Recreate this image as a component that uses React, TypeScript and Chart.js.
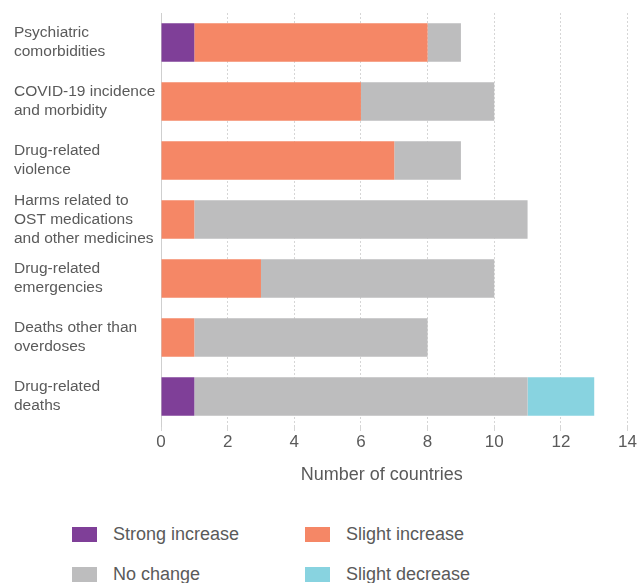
import React, { useEffect, useRef } from "react";
import { Chart, registerables } from "chart.js";

Chart.register(...registerables);

const categories: string[][] = [
  ["Psychiatric", "comorbidities"],
  ["COVID-19 incidence", "and morbidity"],
  ["Drug-related", "violence"],
  ["Harms related to", "OST medications", "and other medicines"],
  ["Drug-related", "emergencies"],
  ["Deaths other than", "overdoses"],
  ["Drug-related", "deaths"],
];

const seriesNames = ["Strong increase", "Slight increase", "No change", "Slight decrease"];
const strongIncrease = [1, 0, 0, 0, 0, 0, 1];
const slightIncrease = [7, 6, 7, 1, 3, 1, 0];
const noChange = [1, 4, 2, 10, 7, 7, 10];
const slightDecrease = [0, 0, 0, 0, 0, 0, 2];
const seriesColors = ["#7f3f98", "#f58766", "#bdbdbe", "#88d3e0"];
const xTicks = [0, 2, 4, 6, 8, 10, 12, 14];

const FONT = "'Liberation Sans', Arial, sans-serif";
const TEXT = "#5a5a5a";

export default function App() {
  const ref = useRef<HTMLCanvasElement | null>(null);

  useEffect(() => {
    document.body.style.margin = "0";
    if (!ref.current) return;
    const values = [strongIncrease, slightIncrease, noChange, slightDecrease];
    const chart = new Chart(ref.current, {
      type: "bar",
      data: {
        labels: categories,
        datasets: seriesNames.map((name, i) => ({
          label: name,
          data: values[i],
          backgroundColor: seriesColors[i],
          borderWidth: 0,
          barPercentage: 0.655,
          categoryPercentage: 1,
        })),
      },
      options: {
        indexAxis: "y",
        animation: false,
        responsive: false,
        maintainAspectRatio: false,
        layout: { padding: { left: 14, right: 10, top: 13, bottom: 0 } },
        plugins: { legend: { display: false }, tooltip: { enabled: false } },
        scales: {
          x: {
            stacked: true,
            min: 0,
            max: 14,
            afterBuildTicks: (axis: any) => {
              axis.ticks = xTicks.map((v) => ({ value: v }));
            },
            grid: {
              color: "#d6d6d6",
              lineWidth: 1,
              tickLength: 5,
              drawOnChartArea: true,
            },
            border: { display: false, dash: [2, 2] },
            ticks: {
              color: TEXT,
              font: { family: FONT, size: 17 },
              padding: 1,
              autoSkip: false,
            },
            title: {
              display: true,
              text: "Number of countries\u00a0\u00a0\u00a0\u00a0\u00a0",
              color: TEXT,
              font: { family: FONT, size: 18 },
              padding: { top: 11, bottom: 0 },
            },
          },
          y: {
            stacked: true,
            grid: { display: false },
            border: { display: true, color: "#cfcfcf", width: 1 },
            afterFit: (axis: any) => {
              axis.width = 147;
              axis.paddingTop = 0;
              axis.paddingBottom = 0;
            },
            ticks: {
              crossAlign: "far",
              autoSkip: false,
              color: TEXT,
              font: { family: FONT, size: 15.5, lineHeight: 1.22 },
            },
          },
        },
      },
    });
    return () => chart.destroy();
  }, []);

  const legendPos = [
    { left: 72, top: 527 },
    { left: 305, top: 527 },
    { left: 72, top: 567 },
    { left: 305, top: 567 },
  ];

  return (
    <div style={{ position: "relative", width: 638, height: 583, overflow: "hidden", background: "#fff" }}>
      <canvas ref={ref} width={638} height={486} style={{ position: "absolute", left: 0, top: 0 }} />
      {seriesNames.map((name, i) => (
        <div
          key={name}
          style={{
            position: "absolute",
            left: legendPos[i].left,
            top: legendPos[i].top,
            display: "flex",
            alignItems: "center",
            fontFamily: FONT,
            fontSize: 18,
            color: TEXT,
            whiteSpace: "nowrap",
          }}
        >
          <span style={{ display: "inline-block", width: 25, height: 15, background: seriesColors[i], marginRight: 16 }} />
          <span style={{ lineHeight: "15px" }}>{name}</span>
        </div>
      ))}
    </div>
  );
}
